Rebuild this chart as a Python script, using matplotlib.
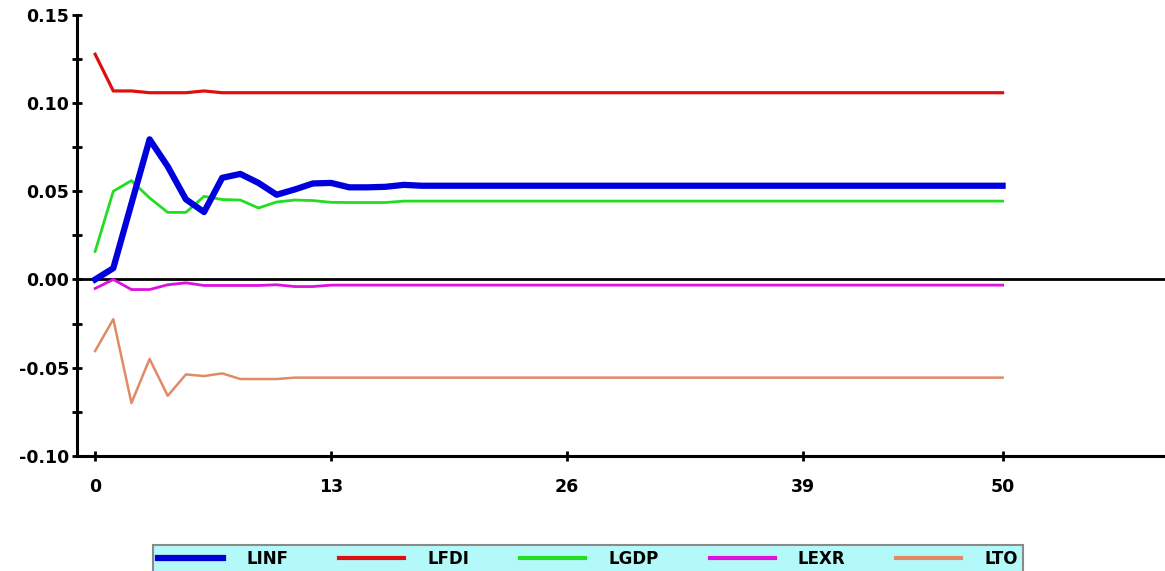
import matplotlib
matplotlib.use("Agg")
import matplotlib.pyplot as plt
from matplotlib.ticker import MultipleLocator

# impulse responses, periods 0..50
periods = list(range(51))

linf = [0.000, 0.0064, 0.043, 0.0794, 0.064, 0.0454, 0.0382, 0.0576, 0.0598, 0.0547,
        0.048, 0.051, 0.0544, 0.0547, 0.0522, 0.0522, 0.0525, 0.0536, 0.0531, 0.0531,
        0.0531, 0.0531, 0.0531, 0.0531, 0.0531, 0.0531, 0.0531, 0.0531, 0.0531, 0.0531,
        0.0531, 0.0531, 0.0531, 0.0531, 0.0531, 0.0531, 0.0531, 0.0531, 0.0531, 0.0531,
        0.0531, 0.0531, 0.0531, 0.0531, 0.0531, 0.0531, 0.0531, 0.0531, 0.0531, 0.0531,
        0.0531]

lfdi = [0.1276, 0.1068, 0.1068, 0.1058, 0.1058, 0.1058, 0.1068, 0.1058, 0.1058, 0.1058,
        0.1058, 0.1058, 0.1058, 0.1058, 0.1058, 0.1058, 0.1058, 0.1058, 0.1058, 0.1058,
        0.1058, 0.1058, 0.1058, 0.1058, 0.1058, 0.1058, 0.1058, 0.1058, 0.1058, 0.1058,
        0.1058, 0.1058, 0.1058, 0.1058, 0.1058, 0.1058, 0.1058, 0.1058, 0.1058, 0.1058,
        0.1058, 0.1058, 0.1058, 0.1058, 0.1058, 0.1058, 0.1058, 0.1058, 0.1058, 0.1058,
        0.1058]

lgdp = [0.0159, 0.050, 0.056, 0.0462, 0.038, 0.038, 0.0471, 0.0453, 0.045, 0.0405,
        0.0439, 0.045, 0.0447, 0.0437, 0.0436, 0.0436, 0.0436, 0.0444, 0.0444, 0.0444,
        0.0444, 0.0444, 0.0444, 0.0444, 0.0444, 0.0444, 0.0444, 0.0444, 0.0444, 0.0444,
        0.0444, 0.0444, 0.0444, 0.0444, 0.0444, 0.0444, 0.0444, 0.0444, 0.0444, 0.0444,
        0.0444, 0.0444, 0.0444, 0.0444, 0.0444, 0.0444, 0.0444, 0.0444, 0.0444, 0.0444,
        0.0444]

lexr = [-0.0051, 0.000, -0.0057, -0.0057, -0.003, -0.0019, -0.0034, -0.0034, -0.0034, -0.0034,
        -0.003, -0.004, -0.004, -0.0032, -0.0032, -0.0032, -0.0032, -0.0032, -0.0032, -0.0032,
        -0.0032, -0.0032, -0.0032, -0.0032, -0.0032, -0.0032, -0.0032, -0.0032, -0.0032, -0.0032,
        -0.0032, -0.0032, -0.0032, -0.0032, -0.0032, -0.0032, -0.0032, -0.0032, -0.0032, -0.0032,
        -0.0032, -0.0032, -0.0032, -0.0032, -0.0032, -0.0032, -0.0032, -0.0032, -0.0032, -0.0032,
        -0.0032]

lto = [-0.0405, -0.0225, -0.070, -0.045, -0.0659, -0.0538, -0.0547, -0.0532, -0.0564, -0.0564,
       -0.0564, -0.0556, -0.0556, -0.0556, -0.0556, -0.0556, -0.0556, -0.0556, -0.0556, -0.0556,
       -0.0556, -0.0556, -0.0556, -0.0556, -0.0556, -0.0556, -0.0556, -0.0556, -0.0556, -0.0556,
       -0.0556, -0.0556, -0.0556, -0.0556, -0.0556, -0.0556, -0.0556, -0.0556, -0.0556, -0.0556,
       -0.0556, -0.0556, -0.0556, -0.0556, -0.0556, -0.0556, -0.0556, -0.0556, -0.0556, -0.0556,
       -0.0556]

x_ticks = [0, 13, 26, 39, 50]
y_ticks = [-0.10, -0.05, 0.00, 0.05, 0.10, 0.15]

fig = plt.figure(figsize=(11.65, 5.71), dpi=100)
ax = fig.add_axes([77 / 1165, 1 - 456 / 571, 1 - 77 / 1165, (456 - 14.7) / 571])

ax.axhline(0, color="black", lw=2, zorder=1)

ax.plot(periods, linf, color="#0000dd", lw=4.5, label="LINF", zorder=5)
ax.plot(periods, lfdi, color="#dd1010", lw=2.3, label="LFDI", zorder=4)
ax.plot(periods, lgdp, color="#22dd22", lw=2.0, label="LGDP", zorder=3)
ax.plot(periods, lexr, color="#dd11dd", lw=2.0, label="LEXR", zorder=3)
ax.plot(periods, lto, color="#e08a66", lw=1.8, label="LTO", zorder=3)

ax.set_xlim(-1, 58.95)
ax.set_ylim(-0.10, 0.15)
ax.set_xticks(x_ticks)
ax.set_yticks(y_ticks)
ax.set_yticklabels([f"{v:.2f}" for v in y_ticks])
ax.yaxis.set_minor_locator(MultipleLocator(0.025))

for s in ["top", "right"]:
    ax.spines[s].set_visible(False)
for s in ["left", "bottom"]:
    ax.spines[s].set_linewidth(2.2)

ax.tick_params(axis="both", which="both", direction="inout", length=7, width=2,
               labelsize=12.5)
ax.tick_params(axis="x", pad=12)
ax.tick_params(axis="y", pad=2)
for lbl in ax.get_xticklabels() + ax.get_yticklabels():
    lbl.set_fontweight("bold")

leg = fig.legend(loc="lower left", bbox_to_anchor=(153 / 1165, -0.004), ncol=5,
                 frameon=True, fancybox=False, borderaxespad=0,
                 handlelength=3.9, handletextpad=1.4, columnspacing=3.05,
                 borderpad=0.3, prop={"weight": "bold", "size": 12})
leg.get_frame().set_facecolor("#b4f9f9")
leg.get_frame().set_edgecolor("#8a8a8a")
leg.get_frame().set_linewidth(1.5)
leg.get_frame().set_alpha(1)
# legend swatches a bit thicker, as in the original
for h in leg.get_lines()[1:]:
    h.set_linewidth(3)

fig.savefig("out.png", dpi=100)
